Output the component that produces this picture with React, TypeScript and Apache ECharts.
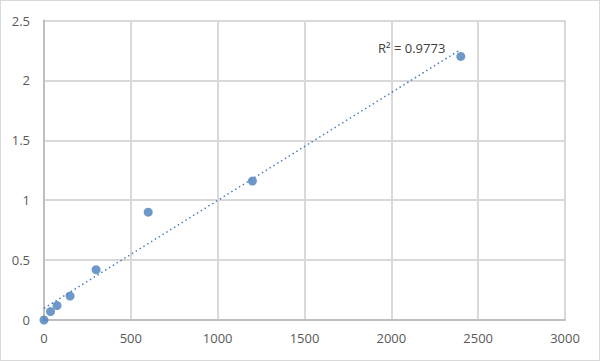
import React, { useEffect, useRef } from "react";
import * as echarts from "echarts";

const xValues = [0, 37.5, 75, 150, 300, 600, 1200, 2400];
const yValues = [0, 0.07, 0.12, 0.2, 0.42, 0.9, 1.16, 2.2];
const r2Label = "R² = 0.9773";

function regression(xs: number[], ys: number[]) {
  const n = xs.length;
  const mx = xs.reduce((a, b) => a + b, 0) / n;
  const my = ys.reduce((a, b) => a + b, 0) / n;
  let sxy = 0;
  let sxx = 0;
  for (let i = 0; i < n; i++) {
    sxy += (xs[i] - mx) * (ys[i] - my);
    sxx += (xs[i] - mx) * (xs[i] - mx);
  }
  const slope = sxy / sxx;
  return { slope, intercept: my - slope * mx };
}

export default function App() {
  const ref = useRef<HTMLDivElement>(null);
  useEffect(() => {
    document.body.style.margin = "0";
    const chart = echarts.init(ref.current!, null, { renderer: "svg" });
    const { slope, intercept } = regression(xValues, yValues);
    const xMin = Math.min(...xValues);
    const xMax = Math.max(...xValues);
    const trend = [
      [xMin, intercept + slope * xMin],
      [xMax, intercept + slope * xMax],
    ];
    const font = "'Open Sans', 'Liberation Sans', sans-serif";
    chart.setOption({
      animation: false,
      backgroundColor: "#ffffff",
      grid: { left: 43, right: 34, top: 19.5, bottom: 40, containLabel: false },
      xAxis: {
        type: "value",
        min: 0,
        max: 3000,
        interval: 500,
        axisLine: { show: true, lineStyle: { color: "#bfbfbf", width: 2 } },
        axisTick: { show: false },
        axisLabel: {
          color: "#595959",
          fontSize: 13,
          fontFamily: font,
          margin: 11,
          formatter: (v: number) => String(v),
        },
        splitLine: { show: true, lineStyle: { color: "#d9d9d9", width: 2 } },
      },
      yAxis: {
        type: "value",
        min: 0,
        max: 2.5,
        interval: 0.5,
        axisLine: { show: true, lineStyle: { color: "#bfbfbf", width: 2 } },
        axisTick: { show: false },
        axisLabel: {
          color: "#595959",
          fontSize: 13,
          fontFamily: font,
          margin: 14,
          formatter: (v: number) => String(v),
        },
        splitLine: { show: true, lineStyle: { color: "#d9d9d9", width: 2 } },
      },
      series: [
        {
          type: "line",
          data: trend,
          symbol: "none",
          silent: true,
          lineStyle: { color: "#4a7ebb", width: 1.5, type: [1.5, 3] },
          z: 1,
        },
        {
          type: "scatter",
          data: xValues.map((x, i) => [x, yValues[i]]),
          symbol: "circle",
          symbolSize: 9,
          itemStyle: { color: "#4a7ebb" },
          z: 2,
        },
      ],
      graphic: [
        {
          type: "text",
          left: 377,
          top: 40,
          style: { text: r2Label, fill: "#404040", fontSize: 13, fontFamily: font },
        },
      ],
    });
    return () => chart.dispose();
  }, []);
  return (
    <div
      ref={ref}
      style={{ width: 600, height: 361, boxSizing: "border-box", border: "1px solid #d9d9d9" }}
    />
  );
}
